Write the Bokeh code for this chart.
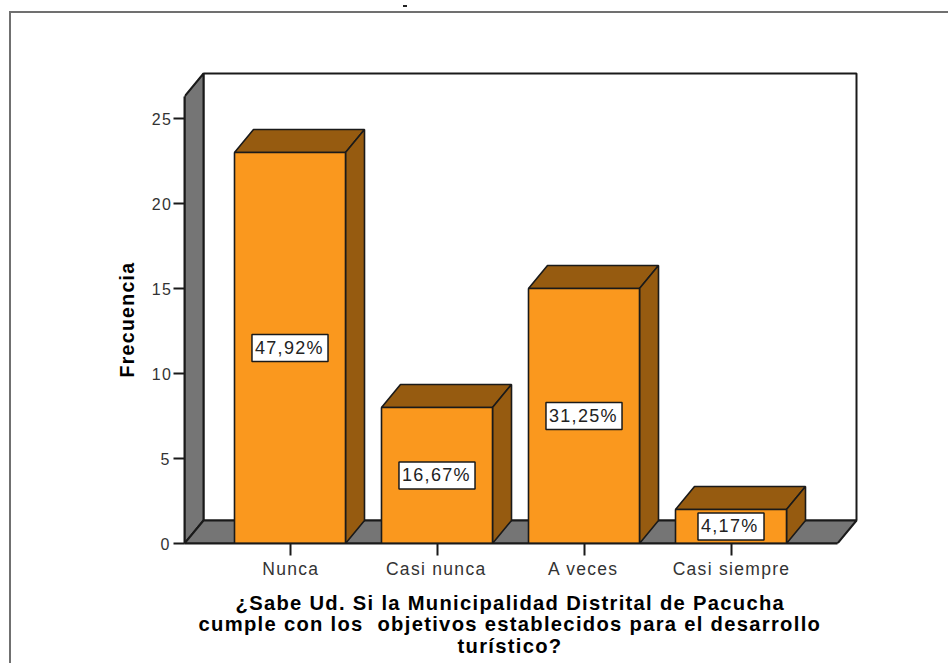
from bokeh.plotting import figure
from bokeh.models import Range1d, FixedTicker, Label, Title, InlineStyleSheet
from bokeh.embed import file_html
from bokeh.resources import INLINE

categories = ["Nunca", "Casi nunca", "A veces", "Casi siempre"]
frecuencia = [23, 8, 15, 2]
porcentajes = ["47,92%", "16,67%", "31,25%", "4,17%"]
y_ticks = [0, 5, 10, 15, 20, 25]
title_lines = ["¿Sabe Ud. Si la Municipalidad Distrital de Pacucha",
               "cumple con los  objetivos establecidos para el desarrollo",
               "turístico?"]
title_left = [235, 198, 457]

FRONT = "#FA981E"; SIDE = "#965B10"; GREY = "#757575"; INK = "#1a1a1a"
W, H = 948, 663
PX_X, PX_Y = 147.0, 17.0          # pixels per category / per count
CX = 289.5                        # pixel of first category
frame_l, frame_r, frame_t, frame_b = 184, 859, 70, 543

def X(px):
    return (px - CX) / PX_X

def Y(py):
    return (frame_b - py) / PX_Y

x0, x1, y1 = X(frame_l), X(frame_r), Y(frame_t)
dx, dy = 19 / PX_X, 23 / PX_Y     # depth of the 3D effect
bw = 111 / PX_X                   # bar width
wall_r, wall_t = X(856), Y(73)
front_r, front_t = wall_r - dx, wall_t - dy

css = """
:host {
  letter-spacing: 1.3px;
  background:
    linear-gradient(#707070,#707070) 9px 11px / 939px 2px no-repeat,
    linear-gradient(#707070,#707070) 9px 11px / 2px 652px no-repeat,
    linear-gradient(#222222,#222222) 403px 5px / 4px 2px no-repeat;
}
"""

p = figure(width=W, height=H, output_backend="svg", toolbar_location=None,
           x_range=Range1d(x0, x1), y_range=Range1d(0, y1),
           min_border_left=frame_l, min_border_right=W - frame_r,
           min_border_top=frame_t, min_border_bottom=H - frame_b,
           outline_line_color=None, background_fill_color=None,
           border_fill_color=None, tools="",
           stylesheets=[InlineStyleSheet(css=css)])
p.grid.visible = False

# walls and floor
p.patch([x0 + dx, wall_r, wall_r, x0 + dx], [dy, dy, wall_t, wall_t],
        fill_color="white", line_color=INK, line_width=2)
p.patch([x0, x0 + dx, x0 + dx, x0], [0, dy, wall_t, front_t],
        fill_color=GREY, line_color=INK, line_width=2)
p.patch([x0, front_r, wall_r, x0 + dx], [0, 0, dy, dy],
        fill_color=GREY, line_color=INK, line_width=2)

# bars
for i, v in enumerate(frecuencia):
    l, r = i - bw / 2, i + bw / 2
    p.patch([l, r, r + dx, l + dx], [v, v, v + dy, v + dy],
            fill_color=SIDE, line_color=INK, line_width=1.6)
    p.patch([r, r + dx, r + dx, r], [0, dy, v + dy, v],
            fill_color=SIDE, line_color=INK, line_width=1.6)
    p.patch([l, r, r, l], [0, 0, v, v],
            fill_color=FRONT, line_color=INK, line_width=1.6)
    p.add_layout(Label(x=i, y=v / 2, text=porcentajes[i], text_align="center",
                       text_baseline="middle", text_font="Liberation Sans",
                       text_font_size="18px", text_color="#222222",
                       background_fill_color="white", border_line_color=INK,
                       border_line_width=1.5, padding=(3, 12, 3, 4)))

# axes
xa = p.xaxis[0]
xa.ticker = FixedTicker(ticks=list(range(len(categories))))
# trailing blanks balance the letter spacing, which the label centring ignores
xa.major_label_overrides = {i: c + " " * round(len(c) * 0.27) for i, c in enumerate(categories)}
xa.bounds = (x0, front_r)
xa.major_tick_out = 12; xa.major_tick_in = 0; xa.minor_tick_out = 0; xa.minor_tick_in = 0
xa.major_label_text_font = "Liberation Sans"; xa.major_label_text_font_size = "17.5px"
xa.major_label_text_color = "#333333"; xa.major_label_standoff = 3
xa.axis_line_color = INK; xa.axis_line_width = 2
xa.major_tick_line_color = INK; xa.major_tick_line_width = 2

ya = p.yaxis[0]
ya.ticker = FixedTicker(ticks=y_ticks)
ya.bounds = (0, front_t)
ya.major_tick_out = 11; ya.major_tick_in = 0; ya.minor_tick_out = 0; ya.minor_tick_in = 0
ya.major_label_text_font = "Liberation Sans"; ya.major_label_text_font_size = "16px"
ya.major_label_text_color = "#333333"; ya.major_label_standoff = 4
ya.axis_line_color = INK; ya.axis_line_width = 2
ya.major_tick_line_color = INK; ya.major_tick_line_width = 2

p.add_layout(Title(text="Frecuencia", align="left", offset=166, standoff=21,
                   text_font="Liberation Sans", text_font_size="19.5px",
                   text_font_style="bold", text_color="#000000"), "left")

# question below the chart: a blank title first pushes the three lines down
p.add_layout(Title(text=" ", standoff=-15, text_font="Liberation Sans",
                   text_font_size="20.2px"), "below")
for k, line in enumerate(title_lines):
    p.add_layout(Title(text=line.replace("  ", " \u00a0"), align="left",
                       offset=title_left[k] - frame_l,
                       standoff=-2 if k == 0 else (-4 if k == 1 else 0),
                       text_font="Liberation Sans", text_font_size="20.2px",
                       text_font_style="bold", text_color="#000000"), "below")

open("out.html", "w").write(file_html(p, INLINE))
